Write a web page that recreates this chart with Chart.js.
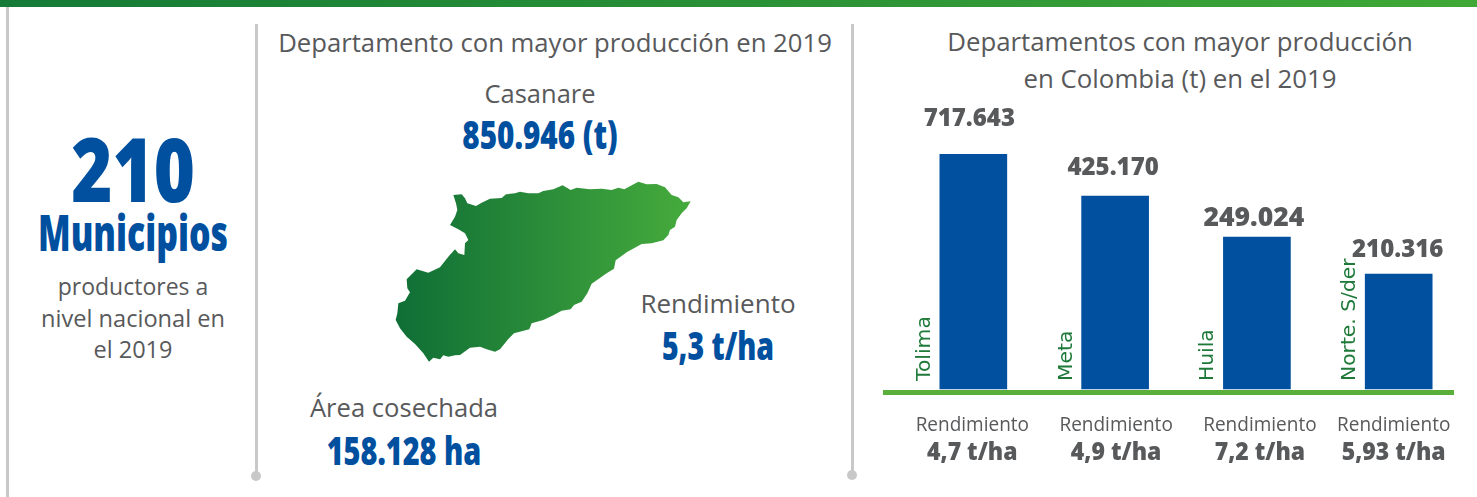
<!DOCTYPE html>
<html lang="es"><head><meta charset="utf-8">
<script src="https://cdn.jsdelivr.net/npm/chart.js@4"></script>
<style>
html,body{margin:0;padding:0;background:#fff;width:1477px;height:497px;overflow:hidden}
#wrap{position:relative;width:1477px;height:497px}
canvas#c{position:absolute;left:0;top:0}
.t{position:absolute;white-space:nowrap;text-align:center;transform:translateX(-50%) scaleX(var(--k,1));line-height:1}
.r{font-family:"Open Sans",sans-serif;font-weight:400;color:#58595b}
.b{font-family:"Open Sans",sans-serif;font-weight:800;color:#00509f}
.bar{position:absolute}
.dot{position:absolute;width:10px;height:10px;border-radius:50%;background:#c8c8c8}
</style></head><body><div id="wrap">
<div class="bar" style="left:0;top:0;width:1477px;height:7px;background:linear-gradient(90deg,#147a36,#3fa836)"></div>
<div class="bar" style="left:6px;top:7px;width:3px;height:490px;background:#c8c8c8"></div>
<div class="bar" style="left:255px;top:24px;width:3px;height:450px;background:#c8c8c8"></div><div class="dot" style="left:251px;top:471px"></div>
<div class="bar" style="left:851px;top:24px;width:3px;height:450px;background:#c8c8c8"></div><div class="dot" style="left:847px;top:470px"></div>

<div class="t b" style="left:133px;top:124px;font-size:88px;--k:.8">210</div>
<div class="t b" style="left:133px;top:208px;font-size:49px;--k:.69">Municipios</div>
<div class="t r" style="left:133px;top:275px;font-size:23px">productores a</div>
<div class="t r" style="left:133px;top:307px;font-size:23.6px">nivel nacional en</div>
<div class="t r" style="left:133px;top:338px;font-size:23.5px">el 2019</div>

<div class="t r" style="left:555px;top:30px;font-size:25.7px">Departamento con mayor producción en 2019</div>
<div class="t r" style="left:540px;top:81px;font-size:25.5px">Casanare</div>
<div class="t b" style="left:540px;top:115px;font-size:38px;--k:.78">850.946 (t)</div>
<svg style="position:absolute;left:380px;top:170px" width="320" height="200" viewBox="0 0 960 600">
<defs><linearGradient id="g" x1="47" x2="932" y1="0" y2="0" gradientUnits="userSpaceOnUse"><stop offset="0" stop-color="#0f6e36"/><stop offset="1" stop-color="#46ab3c"/></linearGradient></defs>
<polygon fill="url(#g)" points="220,75 245,73 255,85 262,100 288,108 305,98 330,86 365,84 378,73 405,70 420,65 445,70 475,70 490,63 520,58 548,46 572,60 590,53 630,58 665,56 695,60 715,53 733,58 775,35 800,43 830,42 855,52 875,75 895,82 910,97 932,94 920,115 905,130 890,150 885,170 870,180 865,195 850,211 815,220 785,222 740,247 707,271 702,296 680,310 635,341 622,370 605,395 582,405 572,418 545,422 520,436 490,450 455,460 448,478 402,490 385,507 360,538 345,545 320,538 300,530 270,533 240,555 225,556 205,560 190,556 180,568 160,563 147,575 130,550 105,522 80,500 60,475 47,450 52,430 55,400 75,392 90,367 82,355 80,328 110,298 145,308 180,292 205,260 225,238 235,250 253,255 255,220 265,210 255,190 235,178 210,165 225,140 232,120 228,100"/>
</svg>
<div class="t r" style="left:718px;top:290px;font-size:26px">Rendimiento</div>
<div class="t b" style="left:718px;top:326px;font-size:38px;--k:.75">5,3 t/ha</div>
<div class="t r" style="left:404px;top:395px;font-size:25.6px">Área cosechada</div>
<div class="t b" style="left:404px;top:431px;font-size:38px;--k:.76">158.128 ha</div>

<div class="t r" style="left:1180px;top:29px;font-size:25.8px">Departamentos con mayor producción</div>
<div class="t r" style="left:1180px;top:66px;font-size:25.8px">en Colombia (t) en el 2019</div>
<canvas id="c" width="1477" height="497"></canvas>
</div>
<script>
// Category names and the figures printed in the reference.
const departamentos = ["Tolima", "Meta", "Huila", "Norte. S/der"];
const produccionImpresa = ["717.643", "425.170", "249.024", "210.316"];
const rendimientos = ["4,7 t/ha", "4,9 t/ha", "7,2 t/ha", "5,93 t/ha"];
const rendimientoTitulo = "Rendimiento";
// The reference's bars are not drawn to scale with their printed figures,
// so the plotted series holds the bar lengths.
const longitudBarras = [235, 193, 152, 115];
const posiciones = [0, 1, 2, 3];

// Label nudges and sizes, as laid out by hand in the reference.
const ajusteValorX = [-4, -2, -3, -1];
const ajusteValorY = [-28, -21, -11, -17];
const tamanoValor = [24, 24, 26.5, 24];
const ajusteRend = [-1, 1, 3, -5];

const barraAzul = "#00509f", verdeEje = "#5aae3a", verdeTexto = "#1f7a3a", gris = "#58595b";

function textoAncho(ctx, txt, x, y, k) {
  ctx.save();
  ctx.translate(x, y);
  ctx.scale(k, 1);
  ctx.fillText(txt, 0, 0);
  ctx.restore();
}

const etiquetas = {
  id: "etiquetas",
  afterDatasetsDraw(chart) {
    const { ctx } = chart;
    const base = chart.scales.y.getPixelForValue(0);
    chart.getDatasetMeta(0).data.forEach((bar, i) => {
      ctx.save();
      ctx.textAlign = "center";
      ctx.textBaseline = "alphabetic";
      ctx.fillStyle = gris;
      ctx.font = '800 ' + tamanoValor[i] + 'px "Open Sans"';
      ctx.fillText(produccionImpresa[i], bar.x + ajusteValorX[i], bar.y + ajusteValorY[i]);
      ctx.font = '400 20px "Open Sans"';
      textoAncho(ctx, rendimientoTitulo, bar.x + ajusteRend[i], base + 42, 0.95);
      ctx.font = '800 25px "Open Sans"';
      textoAncho(ctx, rendimientos[i], bar.x + ajusteRend[i], base + 71, 0.92);
      ctx.translate(bar.x - 43.5, base - 8);
      ctx.rotate(-Math.PI / 2);
      ctx.textAlign = "left";
      ctx.font = '400 20.3px "DejaVu Sans"';
      ctx.fillStyle = verdeTexto;
      ctx.fillText(departamentos[i], 0, 0);
      ctx.restore();
    });
  }
};

new Chart(document.getElementById("c"), {
  type: "bar",
  data: {
    datasets: [{
      data: posiciones.map((x, i) => ({ x, y: longitudBarras[i] })),
      backgroundColor: barraAzul,
      barThickness: 67,
      borderWidth: 0
    }]
  },
  options: {
    responsive: false,
    animation: false,
    events: [],
    layout: { padding: { left: 885, right: 24, top: 154, bottom: 105 } },
    plugins: { legend: { display: false }, tooltip: { enabled: false } },
    scales: {
      x: {
        type: "linear",
        offset: false,
        min: -0.623,
        max: 3.383,
        grid: { display: false, drawTicks: false },
        ticks: { display: false },
        border: { display: true, color: verdeEje, width: 5, z: 1 }
      },
      y: {
        display: false,
        min: -3,
        max: 235
      }
    }
  },
  plugins: [etiquetas]
});
</script></body></html>
